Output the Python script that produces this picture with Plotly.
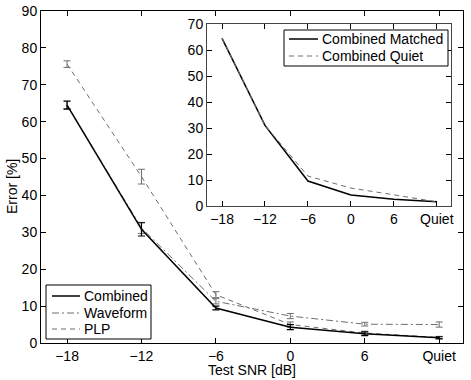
import plotly.graph_objects as go

# test conditions (categorical positions on the x axis)
snr_labels = ["−18", "−12", "−6", "0", "6", "Quiet"]
snr_pos = [0, 1, 2, 3, 4, 5]

# main plot: error rates with error bars
combined = [64.5, 30.8, 9.5, 4.3, 2.5, 1.4]
combined_err = [1.1, 1.8, 0.5, 0.7, 0.5, 0.3]
waveform = [64.5, 31.2, 11.3, 7.3, 5.1, 5.0]
waveform_err = [1.0, 1.5, 0.7, 0.7, 0.5, 0.7]
plp = [75.6, 45.1, 13.1, 5.0, 2.7, 1.5]
plp_err = [0.9, 2.0, 0.8, 0.7, 0.5, 0.3]

# inset: combined system, matched vs. quiet training
inset_matched = [64.5, 31.0, 9.6, 4.2, 2.6, 1.6]
inset_quiet = [64.5, 31.0, 11.5, 6.9, 4.3, 1.6]

GREY = "#6e6e6e"
FONT = "Liberation Sans, Arial, Helvetica, sans-serif"
DASH = "5px,4px"
DASHDOT = "7px,3px,2px,3px"

# plot area in pixels (used to place the hand-drawn legends)
L, R, T, B = 41, 463, 11, 343


def px_x(p):
    return (p - L) / (R - L)


def px_y(p):
    return (B - p) / (B - T)


fig = go.Figure()

fig.add_trace(go.Scatter(
    x=snr_pos, y=plp, name="PLP", mode="lines",
    line=dict(color=GREY, width=1, dash=DASH),
    error_y=dict(type="data", array=plp_err, color=GREY, thickness=1, width=3.5),
))
fig.add_trace(go.Scatter(
    x=snr_pos, y=waveform, name="Waveform", mode="lines",
    line=dict(color=GREY, width=1, dash=DASHDOT),
    error_y=dict(type="data", array=waveform_err, color=GREY, thickness=1, width=3.5),
))
fig.add_trace(go.Scatter(
    x=snr_pos, y=combined, name="Combined", mode="lines",
    line=dict(color="black", width=1.5),
    error_y=dict(type="data", array=combined_err, color="black", thickness=1.2, width=3.5),
))

fig.add_trace(go.Scatter(
    x=snr_pos, y=inset_matched, name="Combined Matched", mode="lines",
    line=dict(color="black", width=1.5),
    xaxis="x2", yaxis="y2",
))
fig.add_trace(go.Scatter(
    x=snr_pos, y=inset_quiet, name="Combined Quiet", mode="lines",
    line=dict(color=GREY, width=1, dash=DASH),
    xaxis="x2", yaxis="y2",
))

axis_common = dict(
    showline=True, linecolor="black", linewidth=1, mirror="ticks",
    ticks="inside", ticklen=5, tickcolor="black",
    showgrid=False, zeroline=False, automargin=False,
    tickfont=dict(family=FONT, size=14, color="black"),
)

# legends drawn by hand: box, line sample, label
legends = [
    # (box px: x0, y0, x1, y1), entries: (label, color, dash, width, row y px), sample x px, text x px
    ((46, 285, 151, 339),
     [("Combined", "black", "solid", 1.5, 296),
      ("Waveform", GREY, DASHDOT, 1, 313),
      ("PLP", GREY, DASH, 1, 329)],
     (52, 80), 82),
    ((284, 30, 448, 66),
     [("Combined Matched", "black", "solid", 1.5, 39),
      ("Combined Quiet", GREY, DASH, 1, 56)],
     (289, 318), 320),
]

shapes = []
annotations = []
for box, entries, (sx0, sx1), tx in legends:
    shapes.append(dict(
        type="rect", xref="paper", yref="paper", layer="above",
        x0=px_x(box[0]), x1=px_x(box[2]), y0=px_y(box[3]), y1=px_y(box[1]),
        line=dict(color="black", width=1), fillcolor="white",
    ))
    for label, color, dash, width, ry in entries:
        shapes.append(dict(
            type="line", xref="paper", yref="paper", layer="above",
            x0=px_x(sx0), x1=px_x(sx1), y0=px_y(ry), y1=px_y(ry),
            line=dict(color=color, width=width, dash=dash),
        ))
        annotations.append(dict(
            text=label, xref="paper", yref="paper", showarrow=False,
            x=px_x(tx), y=px_y(ry), xanchor="left", yanchor="middle",
            font=dict(family=FONT, size=14, color="black"),
        ))

# axis titles
annotations.append(dict(
    text="Test SNR [dB]", xref="paper", yref="paper", showarrow=False,
    x=px_x(252), y=px_y(370), xanchor="center", yanchor="middle",
    font=dict(family=FONT, size=14, color="black"),
))
annotations.append(dict(
    text="Error [%]", xref="paper", yref="paper", showarrow=False, textangle=-90,
    x=px_x(12), y=px_y(187), xanchor="center", yanchor="middle",
    font=dict(family=FONT, size=14, color="black"),
))

fig.update_layout(
    width=471, height=380,
    margin=dict(l=L, r=471 - R, t=T, b=380 - B),
    paper_bgcolor="white", plot_bgcolor="white",
    font=dict(family=FONT, size=14, color="black"),
    showlegend=False,
    xaxis=dict(
        axis_common, range=[-0.35, 5.32],
        tickmode="array", tickvals=snr_pos, ticktext=snr_labels,
    ),
    yaxis=dict(
        axis_common, range=[0, 90], tickvals=list(range(0, 91, 10)),
    ),
    xaxis2=dict(
        axis_common, domain=[px_x(207), px_x(451)], anchor="y2", range=[-0.35, 5.33],
        tickmode="array", tickvals=snr_pos, ticktext=snr_labels, linecolor="#444",
    ),
    yaxis2=dict(
        axis_common, domain=[px_y(206), px_y(24)], anchor="x2", range=[0, 70],
        tickvals=list(range(0, 71, 10)), linecolor="#444",
    ),
    shapes=shapes,
    annotations=annotations,
)

# the page's default body margin would push the figure 8px right and down
fig.write_html(
    "out.html",
    config={"displayModeBar": False},
    post_script="document.body.style.margin='0';",
)
